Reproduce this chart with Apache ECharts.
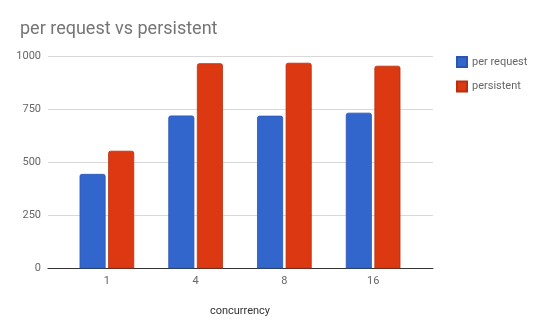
<!DOCTYPE html>
<html>
<head>
<meta charset="utf-8">
<script src="https://cdn.jsdelivr.net/npm/echarts@6/dist/echarts.min.js"></script>
<style>
  html, body { margin: 0; padding: 0; background: #fff; }
  #chart { width: 540px; height: 334px; }
</style>
</head>
<body>
<div id="chart"></div>
<script>
// Throughput per concurrency level
const categories = ['1', '4', '8', '16'];
const perRequest = [445, 720, 719, 733];
const persistent = [554, 966, 968, 954];
const yTicks = [0, 250, 500, 750, 1000];

const FONT = 'Roboto, "Noto Sans", sans-serif';
const chart = echarts.init(document.getElementById('chart'), null, { renderer: 'canvas' });

const yMin = yTicks[0];
const yMax = yTicks[yTicks.length - 1];
const yStep = yTicks[1] - yTicks[0];

chart.setOption({
  animation: false,
  backgroundColor: '#ffffff',
  title: {
    text: 'per request vs persistent',
    left: 15,
    top: 15,
    textStyle: { fontFamily: FONT, fontSize: 18, fontWeight: 'normal', color: '#757575' }
  },
  legend: {
    orient: 'vertical',
    left: 451,
    top: 51,
    icon: 'rect',
    itemWidth: 10,
    itemHeight: 10,
    itemGap: 12.5,
    textStyle: { fontFamily: FONT, fontSize: 11, color: '#666666' },
    data: ['per request', 'persistent']
  },
  grid: [
    // frame: gridlines, value labels, baseline
    { left: 48, right: 107, top: 56, bottom: 65.5 },
    // bars
    { left: 62.5, right: 122.5, top: 56, bottom: 65.5 }
  ],
  xAxis: [
    {
      gridIndex: 0, type: 'value', min: 0, max: 1,
      axisLine: { show: true, lineStyle: { color: '#333333', width: 1 } },
      axisTick: { show: false }, axisLabel: { show: false }, splitLine: { show: false }
    },
    {
      gridIndex: 1, type: 'category', data: categories,
      name: 'concurrency', nameLocation: 'middle', nameGap: 37,
      nameTextStyle: { fontFamily: FONT, fontSize: 11, color: '#333333' },
      axisLine: { show: false }, axisTick: { show: false },
      axisLabel: { fontFamily: FONT, fontSize: 11, color: '#666666', margin: 7 }
    }
  ],
  yAxis: [
    {
      gridIndex: 0, type: 'value', min: yMin, max: yMax, interval: yStep,
      axisLine: { show: false }, axisTick: { show: false },
      axisLabel: { fontFamily: FONT, fontSize: 11, color: '#666666', margin: 7, formatter: v => String(v) },
      splitLine: { lineStyle: { color: '#d9d9d9', width: 1 } }
    },
    {
      gridIndex: 1, type: 'value', min: yMin, max: yMax, interval: yStep,
      show: false, splitLine: { show: false }
    }
  ],
  series: [
    {
      name: 'per request', type: 'bar', xAxisIndex: 1, yAxisIndex: 1,
      data: perRequest, barWidth: 26, barGap: '10%',
      itemStyle: { color: '#3366cc', borderColor: '#2a56b0', borderWidth: 0.8, borderRadius: [2, 2, 0, 0] }
    },
    {
      name: 'persistent', type: 'bar', xAxisIndex: 1, yAxisIndex: 1,
      data: persistent, barWidth: 26, barGap: '10%',
      itemStyle: { color: '#dc3912', borderColor: '#b82f0f', borderWidth: 0.8, borderRadius: [2, 2, 0, 0] }
    }
  ]
});
</script>
</body>
</html>
